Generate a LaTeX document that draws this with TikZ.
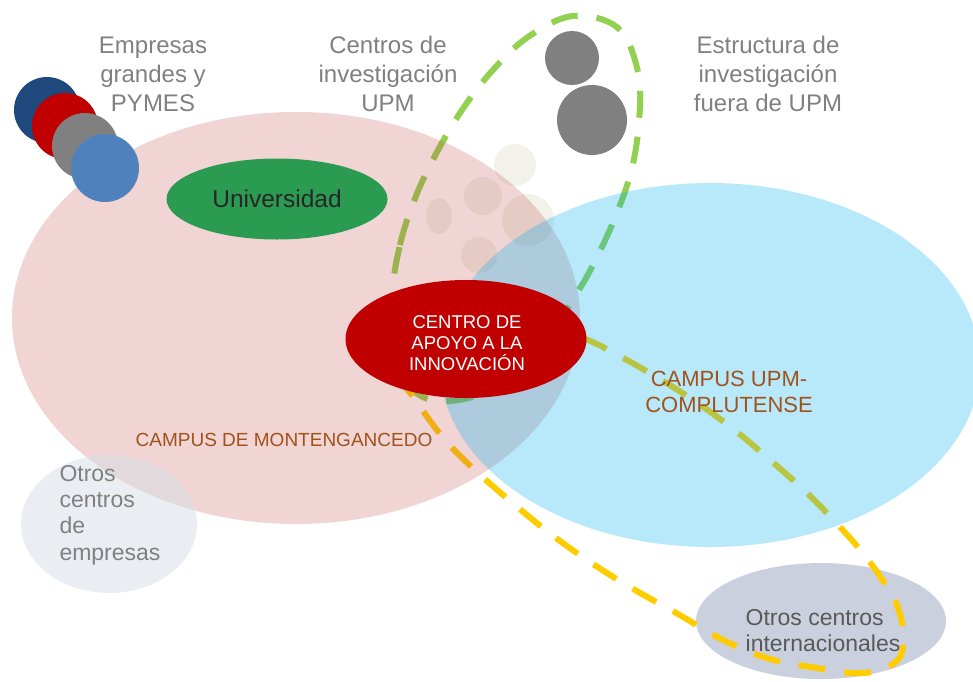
\documentclass[tikz,border=0pt]{standalone}
\usepackage{fontspec}
\setmainfont{Liberation Sans}
\usetikzlibrary{shapes.geometric}

\definecolor{campuspink}{HTML}{C0504D}
\definecolor{campusblue}{HTML}{00B0F0}
\definecolor{apoyored}{HTML}{C00000}
\definecolor{unigreen}{HTML}{2C9B52}
\definecolor{labelgray}{HTML}{808080}
\definecolor{campusbrown}{HTML}{A0521A}
\definecolor{loopgreen}{HTML}{92D050}
\definecolor{loopyellow}{HTML}{FFCC00}
\definecolor{faintbeige}{HTML}{F2F1EA}
\definecolor{intgray}{HTML}{CBD0DE}
\definecolor{empgray}{HTML}{D6DCE5}
\definecolor{navyblue}{HTML}{1F497D}
\definecolor{softblue}{HTML}{4F81BD}

\begin{document}
\begin{tikzpicture}[x=1pt, y=-1pt,
    toplabel/.style={text=labelgray, align=center, inner sep=0pt, font=\fontsize{24}{29}\selectfont},
    campuslabel/.style={text=campusbrown, align=center, inner sep=0pt},
    loopline/.style={line width=6pt, dash pattern=on 27pt off 19pt},
    blob/.style={ellipse, inner sep=0pt}]
    \useasboundingbox (0,0) rectangle (973,681);

    % otros centros internacionales
    \node[blob, fill=intgray, minimum width=250pt, minimum height=116pt] (internac) at (821,621) {};
    \node[text=black!65, align=left, inner sep=0pt, font=\fontsize{23}{26}\selectfont] (internactxt) at (823,631) {Otros centros\\internacionales};

    % small faint circles
    \fill[faintbeige] (515,165) circle (21pt) (483,196) circle (19pt) (528,220) circle (26pt) (479,255) circle (18pt);
    \fill[faintbeige] (439,216) ellipse [x radius=13pt, y radius=18pt];

    % dashed loops
    \draw[loopline, loopgreen] plot[smooth cycle, tension=0.6] coordinates {(393,300) (400,245) (416,196) (437,152) (462,110) (492,71) (528,37) (573,16) (618,28) (638,72) (639,122) (631,172) (614,220) (593,265) (572,301) (525,372) (450,401) (405,380)};
    \draw[loopline, loopyellow] plot[smooth cycle, tension=0.6] coordinates {(440,320) (403,372) (418,403) (445,440) (477,472) (515,505) (552,535) (593,564) (635,590) (678,614) (723,640) (770,659) (817,668) (853,673) (880,670) (900,657) (903,632) (898,608) (887,587) (866,557) (840,527) (806,492) (770,460) (732,428) (690,398) (648,372) (612,352) (588,340) (520,312)};

    % campus de montegancedo
    \fill[campuspink, fill opacity=0.24] (296,318) ellipse [x radius=284pt, y radius=206pt];

    % otros centros de empresas
    \node[blob, fill=empgray, fill opacity=0.5, minimum width=176pt, minimum height=138pt] (otrosemp) at (109,524) {};
    \node[text=labelgray, align=left, inner sep=0pt, font=\fontsize{23}{26.3}\selectfont] (otrosemptxt) at (110,515) {Otros\\centros\\de\\empresas};

    % campus upm-complutense
    \fill[campusblue, fill opacity=0.28] (710,365) ellipse [x radius=270pt, y radius=182pt];

    % empresas
    \fill[navyblue] (47,110) circle (33pt);
    \fill[apoyored] (65,126) circle (33pt);
    \fill[labelgray] (85,146) circle (33pt);
    \fill[softblue] (105,168) circle (34pt);
    % estructura fuera de upm
    \fill[labelgray] (572,58) circle (27pt) (592,120) circle (35pt);

    \node[blob, fill=unigreen, minimum width=221pt, minimum height=81pt, text=black!85, font=\fontsize{24.5}{29}\selectfont] (universidad) at (277,199) {Universidad};
    \node[blob, fill=apoyored, minimum width=241pt, minimum height=118pt, text=white, align=center, font=\fontsize{18.5}{21}\selectfont] (apoyo) at (466,339) {};
    \node[text=white, align=center, inner sep=0pt, font=\fontsize{18.5}{21}\selectfont] (apoyotxt) at (467,343) {CENTRO DE\\APOYO A LA\\INNOVACIÓN};

    \node[toplabel] (empresas) at (153,74) {Empresas\\grandes y\\PYMES};
    \node[toplabel] (centros) at (388,74) {Centros de\\investigación\\UPM};
    \node[toplabel] (estructura) at (768,74) {Estructura de\\investigación\\fuera de UPM};

    \node[campuslabel, font=\fontsize{19}{22}\selectfont] (montegancedo) at (284,440) {CAMPUS DE MONTENGANCEDO};
    \node[campuslabel, font=\fontsize{22}{26}\selectfont] (complutense) at (729,392) {CAMPUS UPM-\\COMPLUTENSE};
\end{tikzpicture}
\end{document}
